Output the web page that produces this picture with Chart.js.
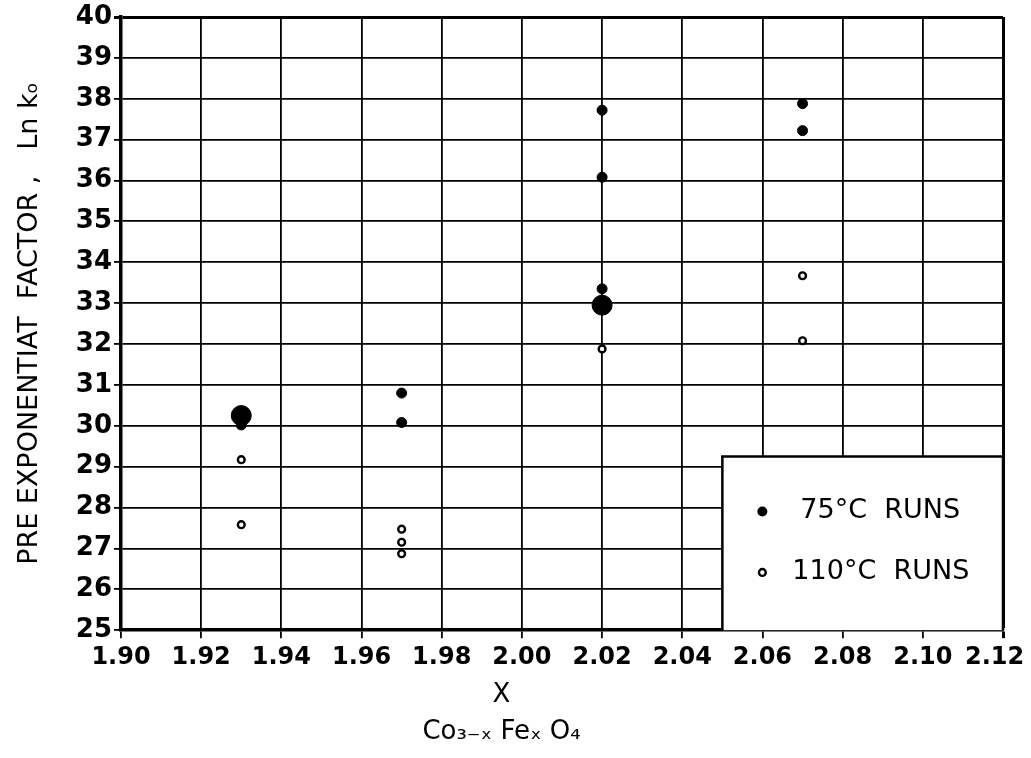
<!DOCTYPE html>
<html><head><meta charset="utf-8">
<script src="https://cdn.jsdelivr.net/npm/chart.js@4"></script>
<style>html,body{margin:0;padding:0;background:#fff}#wrap{width:1031px;height:758px}</style>
</head><body><div id="wrap"><canvas id="c" width="1031" height="758"></canvas></div>
<script>
const xTicks = [1.90, 1.92, 1.94, 1.96, 1.98, 2.00, 2.02, 2.04, 2.06, 2.08, 2.10, 2.12];
const yTicks = [25, 26, 27, 28, 29, 30, 31, 32, 33, 34, 35, 36, 37, 38, 39, 40];
const x75 = [1.93, 1.97, 1.97, 2.02, 2.02, 2.02, 2.07, 2.07];
const y75 = [30.02, 30.8, 30.08, 37.72, 36.08, 33.35, 37.88, 37.22];
const x110 = [1.93, 1.93, 1.97, 1.97, 1.97, 2.02, 2.07, 2.07];
const y110 = [29.17, 27.58, 27.47, 27.15, 26.87, 31.88, 33.67, 32.08];
const xMean = [1.93, 2.02];
const yMean = [30.25, 32.95];
const legendLabels = ['75°C  RUNS', '110°C  RUNS'];
const xTitle = ['X', 'Co₃₋ₓ Feₓ O₄'];
const yTitle = 'PRE EXPONENTIAT  FACTOR ,   Ln kₒ';
const legendBoxX = 2.05, legendBoxTopY = 29.25;

const toPts = (xs, ys) => xs.map((x, i) => ({x: x, y: ys[i]}));
const FONT = '"DejaVu Sans", sans-serif';

const bgPlugin = {
  id: 'bg',
  beforeDraw(chart) {
    const c = chart.ctx; c.save(); c.fillStyle = '#fff';
    c.fillRect(0, 0, chart.width, chart.height); c.restore();
  }
};

const legendPlugin = {
  id: 'boxLegend',
  beforeDatasetsDraw(chart) {
    const c = chart.ctx, xs = chart.scales.x, ys = chart.scales.y, a = chart.chartArea;
    const l = xs.getPixelForValue(legendBoxX), t = ys.getPixelForValue(legendBoxTopY);
    c.save();
    c.fillStyle = '#fff';
    c.fillRect(l, t, a.right - l, a.bottom - t);
    c.strokeStyle = '#000'; c.lineWidth = 2.5;
    c.beginPath(); c.moveTo(l, a.bottom); c.lineTo(l, t); c.lineTo(a.right, t); c.lineTo(a.right, a.bottom); c.stroke();
    c.font = '27px ' + FONT; c.fillStyle = '#000'; c.textBaseline = 'middle'; c.textAlign = 'left';
    const rows = [t + 55, t + 116];
    c.beginPath(); c.arc(l + 40, rows[0], 5, 0, Math.PI * 2); c.fill();
    c.fillText(legendLabels[0], l + 78, rows[0]);
    c.beginPath(); c.arc(l + 40, rows[1], 3.4, 0, Math.PI * 2); c.lineWidth = 2.4; c.stroke();
    c.fillText(legendLabels[1], l + 70, rows[1]);
    c.restore();
  }
};

const lastX = xTicks.length - 1, lastY = yTicks.length - 1;

new Chart(document.getElementById('c'), {
  type: 'scatter',
  data: {
    datasets: [
      { label: 'mean', data: toPts(xMean, yMean), pointRadius: 10, backgroundColor: '#000', borderColor: '#000', borderWidth: 1 },
      { label: legendLabels[0], data: toPts(x75, y75), pointRadius: 5, backgroundColor: '#000', borderColor: '#000', borderWidth: 1 },
      { label: legendLabels[1], data: toPts(x110, y110), pointRadius: 3.4, backgroundColor: '#fff', borderColor: '#000', borderWidth: 2.4 }
    ]
  },
  options: {
    responsive: false, animation: false, devicePixelRatio: 1,
    layout: { padding: { top: 17, right: 28, left: 0, bottom: 0 } },
    plugins: {
      legend: { display: false }, tooltip: { enabled: false },
      title: { display: true, position: 'bottom', text: xTitle, color: '#000',
               font: { family: FONT, size: 26, weight: 'normal', lineHeight: 1.42 }, padding: { top: 0, bottom: 7.5 } }
    },
    scales: {
      x: {
        type: 'linear', min: 1.90, max: 2.12,
        afterBuildTicks: s => { s.ticks = xTicks.map(v => ({ value: v })); },
        afterFit: s => { s.height = 46.5; s.paddingLeft = 0; s.paddingRight = 0; },
        ticks: { callback: (v, i) => v.toFixed(2) + (i === lastX ? '  ' : ''), color: '#000', font: { family: FONT, size: 24, weight: 'bold' }, padding: 5, maxRotation: 0, autoSkip: false },
        grid: { color: '#000', lineWidth: c => (c.index === lastX ? 3 : 1.8), tickLength: 8 },
        border: { color: '#000', width: 3.5 }
      },
      y: {
        type: 'linear', min: 25, max: 40,
        afterBuildTicks: s => { s.ticks = yTicks.map(v => ({ value: v })); },
        afterFit: s => { s.width = 121; s.paddingTop = 0; s.paddingBottom = 0; },
        ticks: { color: '#000', font: { family: FONT, size: 26, weight: 'bold' }, padding: 2, autoSkip: false },
        grid: { color: '#000', lineWidth: c => (c.index === lastY ? 3 : 1.8), tickLength: 7 },
        border: { color: '#000', width: 3.5 },
        title: { display: true, text: yTitle, color: '#000', font: { family: FONT, size: 27, weight: 'normal', lineHeight: 1.2 }, padding: { top: 14, bottom: 0 } }
      }
    }
  },
  plugins: [bgPlugin, legendPlugin]
});
</script></body></html>
